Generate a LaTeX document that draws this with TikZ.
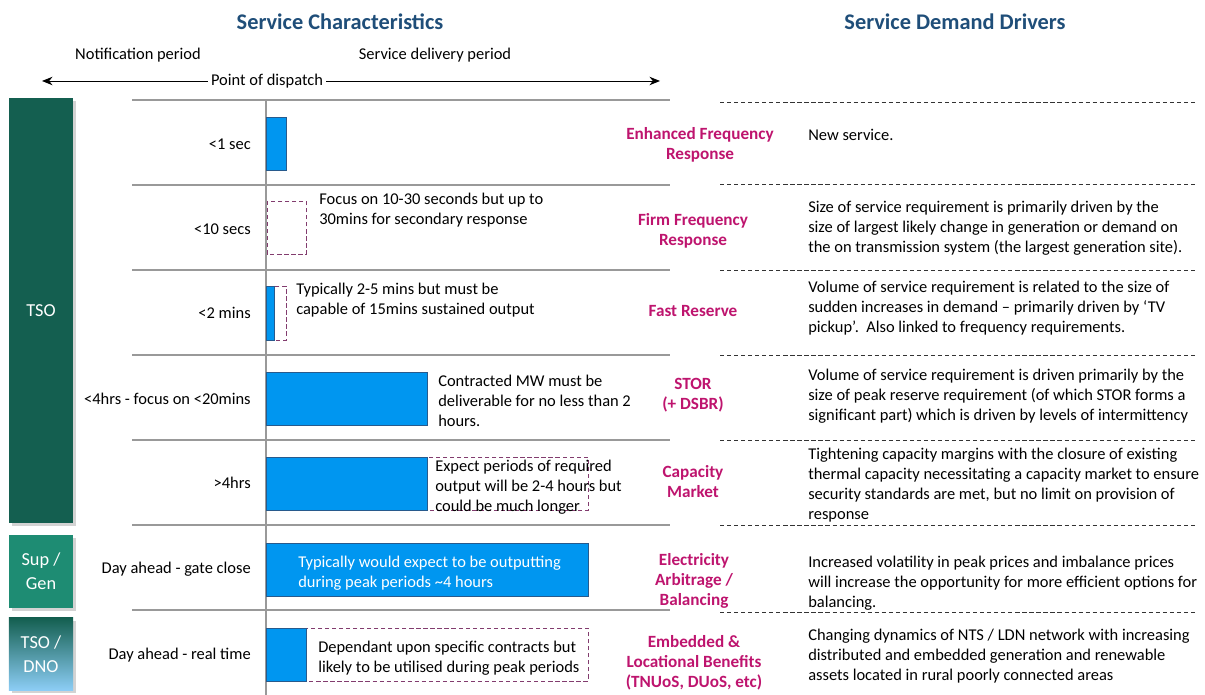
\documentclass[tikz,border=0pt]{standalone}
\usepackage{fontspec}
\setmainfont{Carlito}
\usepackage{tikz}
\usetikzlibrary{arrows,arrows.meta,positioning,shadows}

\definecolor{titleblue}{RGB}{31,78,121}
\definecolor{tsogreen}{RGB}{20,95,80}
\definecolor{supgreen}{RGB}{30,140,115}
\definecolor{dnoblue}{RGB}{140,205,245}
\definecolor{barblue}{RGB}{0,150,240}
\definecolor{barline}{RGB}{40,90,140}
\definecolor{svcpink}{RGB}{190,20,110}
\definecolor{dashpurple}{RGB}{130,60,110}

\begin{document}
\begin{tikzpicture}[x=0.025cm, y=-0.025cm, >={Stealth[length=7.5pt,width=6pt]},
  font=\fontsize{11.7}{14.2}\selectfont,
  title/.style={font=\fontsize{15.9}{18}\selectfont\bfseries, text=titleblue},
  actor/.style={draw=none, text=white, font=\fontsize{13}{17}\selectfont, align=center, minimum width=1.6cm, drop shadow={opacity=0.35, shadow xshift=2pt, shadow yshift=-2pt}},
  timing/.style={anchor=east, inner sep=0pt},
  note/.style={anchor=west, align=left, inner sep=0pt},
  service/.style={align=center, text=svcpink, font=\fontsize{12.2}{14.2}\selectfont\bfseries, inner sep=0pt},
  bar/.style={fill=barblue, draw=barline, line width=0.6pt},
  window/.style={draw=dashpurple, dashed, line width=0.6pt, dash pattern=on 3pt off 2pt},
  rowline/.style={draw=black!40, line width=0.8pt},
  driverline/.style={draw=black!80, dashed, line width=0.6pt, dash pattern=on 3pt off 2pt}]
	\useasboundingbox (0,0) rectangle (1205,695);

	% titles and time axis
	\node [title] (charac) at (340,22) {Service Characteristics};
	\node [title] (drivers) at (955,22) {Service Demand Drivers};
	\node (notify) at (138,55) {Notification period};
	\node (deliver) at (435,55) {Service delivery period};
	\node [inner sep=2pt] (dispatch) at (267,81) {Point of dispatch};
	\coordinate (axisl) at (42,81);
	\coordinate (axisr) at (660,81);
	\draw [->, line width=0.7pt] (dispatch.west) -- (axisl);
	\draw [->, line width=0.7pt] (dispatch.east) -- (axisr);

	% actors
	\node [actor, fill=tsogreen, minimum height=10.625cm] (tso) at (41,310.5) {TSO};
	\node [actor, fill=supgreen, minimum height=1.825cm] (supgen) at (41,571.5) {Sup /\\Gen};
	\node [actor, top color=tsogreen, bottom color=dnoblue, minimum height=1.8cm] (tsodno) at (41,654) {TSO /\\DNO};

	% grid
	\foreach \y in {100,185,270,355,440,525,610}
		\draw [rowline] (132,\y) -- (670,\y);
	\draw [rowline] (266,100) -- (266,695);
	\foreach \y in {102,184,270,355,440,525,612}
		\draw [driverline] (720,\y) -- (1195,\y);

	% response times
	\node [timing] (t1) at (251,144) {<1 sec};
	\node [timing] (t2) at (251,229) {<10 secs};
	\node [timing] (t3) at (251,313) {<2 mins};
	\node [timing] (t4) at (251,399) {<4hrs - focus on <20mins};
	\node [timing] (t5) at (251,483) {>4hrs};
	\node [timing] (t6) at (251,569) {Day ahead - gate close};
	\node [timing] (t7) at (251,655) {Day ahead - real time};

	% delivery bars
	\draw [bar] (266,117) rectangle (286,170);
	\draw [window] (267,201) rectangle (306,254);
	\draw [window] (274,286) rectangle (286,340);
	\draw [bar] (266,286) rectangle (274,340);
	\draw [bar] (266,372) rectangle (427,425);
	\draw [window] (427,457) rectangle (588,510);
	\draw [bar] (266,457) rectangle (427,510);
	\draw [bar] (266,543) rectangle (588,596);
	\draw [window] (306,628) rectangle (588,681);
	\draw [bar] (266,628) rectangle (306,681);

	\node [note] (n2) at (319,210) {Focus on 10-30 seconds but up to\\30mins for secondary response};
	\node [note] (n3) at (296,300) {Typically 2-5 mins but must be\\capable of 15mins sustained output};
	\node [note] (n4) at (438,401) {Contracted MW must be\\deliverable for no less than 2\\hours.};
	\node [note] (n5) at (435,487) {Expect periods of required\\output will be 2-4 hours but\\could be much longer};
	\node [note, text=white] (n6) at (298,573) {Typically would expect to be outputting\\during peak periods \textasciitilde4 hours};
	\node [note] (n7) at (318,658) {Dependant upon specific contracts but\\likely to be utilised during peak periods};

	% services
	\node [service] (efr) at (700,145) {Enhanced Frequency\\Response};
	\node [service] (ffr) at (693,231) {Firm Frequency\\Response};
	\node [service] (fres) at (693,311) {Fast Reserve};
	\node [service] (stor) at (693,395) {STOR\\(+ DSBR)};
	\node [service] (cm) at (693,482) {Capacity\\Market};
	\node [service] (arb) at (694,581) {Electricity\\Arbitrage /\\Balancing};
	\node [service] (emb) at (694,663) {Embedded \&\\Locational Benefits\\(TNUoS, DUoS, etc)};

	% demand drivers
	\node [note] (d1) at (808,135) {New service.};
	\node [note] (d2) at (808,228) {Size of service requirement is primarily driven by the\\size of largest likely change in generation or demand on\\the on transmission system (the largest generation site).};
	\node [note] (d3) at (808,308) {Volume of service requirement is related to the size of\\sudden increases in demand -- primarily driven by `TV\\pickup'.\ \ Also linked to frequency requirements.};
	\node [note] (d4) at (808,396) {Volume of service requirement is driven primarily by the\\size of peak reserve requirement (of which STOR forms a\\significant part) which is driven by levels of intermittency};
	\node [note] (d5) at (808,485) {Tightening capacity margins with the closure of existing\\thermal capacity necessitating a capacity market to ensure\\security standards are met, but no limit on provision of\\response};
	\node [note] (d6) at (808,583) {Increased volatility in peak prices and imbalance prices\\will increase the opportunity for more efficient options for\\balancing.};
	\node [note] (d7) at (808,656) {Changing dynamics of NTS / LDN network with increasing\\distributed and embedded generation and renewable\\assets located in rural poorly connected areas};
\end{tikzpicture}
\end{document}
